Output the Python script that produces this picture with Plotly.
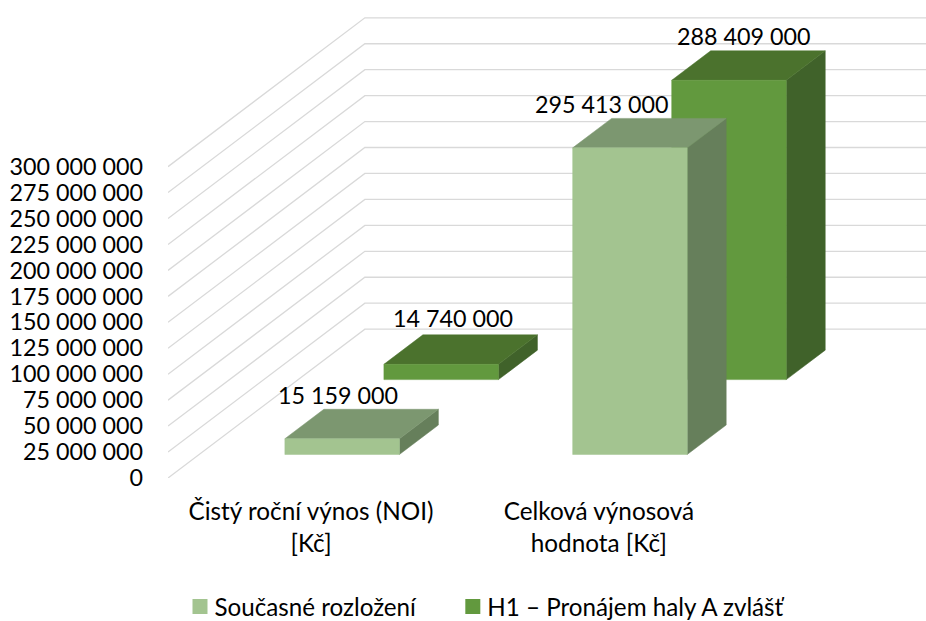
import plotly.graph_objects as go

# --- data ---
categories = ["Čistý roční výnos (NOI)<br>[Kč]", "Celková výnosová<br>hodnota [Kč]"]
series_names = ["Současné rozložení", "H1 – Pronájem haly A zvlášť"]
current_values = [15159000, 295413000]
h1_values = [14740000, 288409000]
tick_values = [0, 25000000, 50000000, 75000000, 100000000, 125000000, 150000000,
               175000000, 200000000, 225000000, 250000000, 275000000, 300000000]

# --- styling / projection ---
FONT = "Lato"
FS = 23.3
FS_CAT = 24.3
FS_LEGEND = 24.2
W, H = 926, 621
LEFT, BASE = 167.5, 478.5          # pixel position of the axes origin
PX_PER_CAT = 288.0
PX_PER_VALUE = 1.039e-6
KX = 197.0 / PX_PER_CAT            # oblique projection of depth 1 on x
KY = 149.0 / PX_PER_VALUE          # oblique projection of depth 1 on y
CAT_CENTER = 0.497
BAR_WIDTH = 0.398
BAR_DEPTH = 0.198
SERIES_DEPTH = [0.158, 0.661]
FACE_COLORS = [("#A3C490", "#7C9770", "#667F5B"), ("#62993E", "#4B722D", "#40622A")]
LABEL_SHIFT = [[(-4.5, 44), (-28, 44)], [(12, 46), (15, 44)]]
LEGEND_LEFT = [174, 447]
LEGEND_TOP = 585


def fmt(v):
    return f"{v:,}".replace(",", " ")


def project(x, v, d):
    return x + d * KX, v + d * KY


def poly(points, color):
    xs, ys = zip(*[project(*p) for p in points])
    return go.Scatter(x=list(xs) + [xs[0]], y=list(ys) + [ys[0]], mode="lines", fill="toself",
                      fillcolor=color, line=dict(color=color, width=0.5),
                      hoverinfo="skip", showlegend=False)


fig = go.Figure()

# floor/wall grid lines, one for each value tick
for v in tick_values:
    xs, ys = zip(project(0, v, 0), project(0, v, 1), project(3.5, v, 1))
    fig.add_trace(go.Scatter(x=xs, y=ys, mode="lines", line=dict(color="#D9D9D9", width=1.3),
                             hoverinfo="skip", showlegend=False))

# bars, back series first
series_values = [current_values, h1_values]
for cat in range(len(categories)):
    for s in (1, 0):
        v = series_values[s][cat]
        d0, d1 = SERIES_DEPTH[s], SERIES_DEPTH[s] + BAR_DEPTH
        x0, x1 = cat + CAT_CENTER - BAR_WIDTH / 2, cat + CAT_CENTER + BAR_WIDTH / 2
        front, top, side = FACE_COLORS[s]
        fig.add_trace(poly([(x1, 0, d0), (x1, 0, d1), (x1, v, d1), (x1, v, d0)], side))
        fig.add_trace(poly([(x0, v, d0), (x1, v, d0), (x1, v, d1), (x0, v, d1)], top))
        fig.add_trace(poly([(x0, 0, d0), (x1, 0, d0), (x1, v, d0), (x0, v, d0)], front))

# data labels
for s in range(2):
    for cat in range(len(categories)):
        v = series_values[s][cat]
        x, y = project(cat + CAT_CENTER, v, SERIES_DEPTH[s])
        dx, dy = LABEL_SHIFT[s][cat]
        fig.add_annotation(x=x, y=y, text=fmt(v), showarrow=False, xshift=dx, yshift=dy,
                           xanchor="center", yanchor="middle",
                           font=dict(family=FONT, size=FS, color="#000000"))

# legend entries (one legend box for each, so that each can sit where the reference has it)
for i, (name, colors) in enumerate(zip(series_names, FACE_COLORS)):
    fig.add_trace(go.Scatter(x=[None], y=[None], mode="markers", name=name,
                             legend="legend" if i == 0 else "legend2",
                             marker=dict(symbol="square", size=15, color=colors[0])))

plot_w, plot_h = W - LEFT, BASE


def legend_box(left):
    return dict(orientation="h", x=(left - LEFT) / plot_w, xanchor="left",
                y=-(LEGEND_TOP - BASE) / plot_h, yanchor="top",
                font=dict(family=FONT, size=FS_LEGEND), bgcolor="rgba(0,0,0,0)")


fig.update_layout(
    width=W, height=H,
    margin=dict(l=LEFT, r=0, t=0, b=H - BASE, pad=0, autoexpand=False),
    paper_bgcolor="#FFFFFF", plot_bgcolor="#FFFFFF",
    font=dict(family=FONT, size=FS, color="#000000"),
    hovermode=False,
    legend=legend_box(LEGEND_LEFT[0]),
    legend2=legend_box(LEGEND_LEFT[1]),
    xaxis=dict(range=[0, plot_w / PX_PER_CAT], tickvals=[CAT_CENTER, 1 + CAT_CENTER], ticktext=categories,
               showgrid=False, zeroline=False, showline=False, ticks="outside", ticklen=12,
               tickcolor="rgba(0,0,0,0)", tickfont=dict(family=FONT, size=FS_CAT), tickangle=0,
               automargin=False),
    yaxis=dict(range=[0, plot_h / PX_PER_VALUE], tickvals=tick_values,
               ticktext=[fmt(v) for v in tick_values],
               showgrid=False, zeroline=False, showline=False, ticks="",
               ticklabelstandoff=24, tickfont=dict(family=FONT, size=FS), automargin=False),
)

fig.write_html(
    "out.html",
    config={"displayModeBar": False},
    post_script=(
        "document.body.style.margin='0';document.body.style.overflow='hidden';"
        "document.querySelectorAll('.legendsymbols').forEach(function(g){"
        "g.setAttribute('transform','translate(5.5,0)');});"
    ),
)
